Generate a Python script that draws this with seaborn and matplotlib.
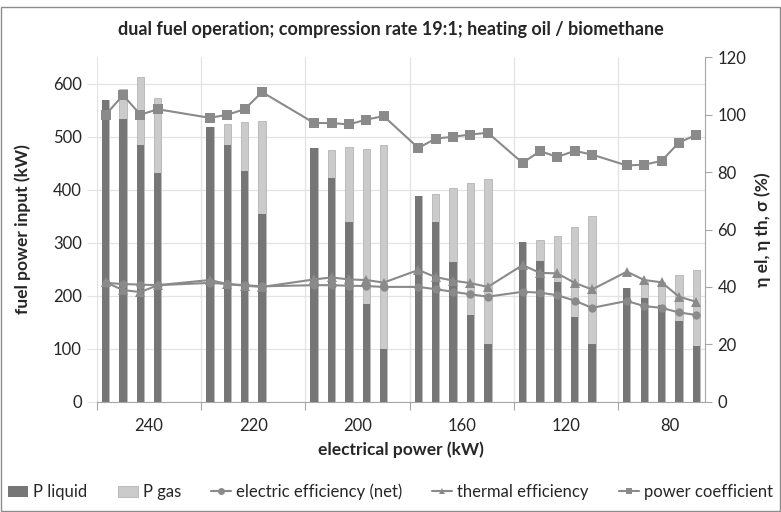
import numpy as np
import pandas as pd
import matplotlib
matplotlib.use("Agg")
import matplotlib.pyplot as plt
from matplotlib.patches import Patch, Rectangle
from matplotlib.lines import Line2D
import seaborn as sns

# electrical power groups (each group holds 6 category slots, the last one 5)
groups = ["240", "220", "200", "160", "120", "80"]
slots_per_group = 6

# fuel power input (kW)
p_liquid = [[570, 533, 484, 432], [518, 484, 436, 354], [478, 422, 340, 184, 100],
            [388, 340, 264, 163, 109], [302, 266, 226, 159, 109], [215, 196, 183, 153, 106]]
p_gas = [[0, 57, 129, 142], [0, 40, 91, 175], [0, 53, 141, 293, 384],
         [0, 52, 140, 250, 312], [0, 39, 87, 170, 241], [0, 30, 42, 87, 143]]

# efficiencies (%)
el_eff = [[41.4, 41.0, 40.8, 40.6], [41.4, 41.0, 40.6, 40.2], [40.6, 40.6, 40.4, 40.3, 40.0],
          [40.0, 39.2, 38.3, 37.4, 36.6], [38.3, 38.0, 37.1, 35.2, 32.7], [35.1, 33.3, 32.7, 31.1, 30.2]]
th_eff = [[41.6, 38.9, 38.2, 40.6], [42.4, 41.0, 40.4, 40.0], [42.6, 43.3, 42.6, 42.4, 41.5],
          [45.9, 43.4, 42.2, 41.3, 40.0], [47.6, 44.9, 44.7, 41.4, 39.1], [45.3, 42.4, 41.6, 36.6, 34.8]]
power_coef = [[100.0, 106.8, 100.0, 101.9], [98.9, 100.0, 101.9, 107.9], [97.1, 97.1, 96.6, 98.3, 99.5],
              [88.4, 91.7, 92.3, 93.1, 93.7], [83.2, 87.3, 85.3, 87.4, 86.1], [82.3, 82.6, 83.9, 90.3, 93.0]]

# build long table: one row per measurement, placed in its category slot
rows = []
for g in range(len(groups)):
    for j in range(len(p_liquid[g])):
        rows.append({
            "slot": g * slots_per_group + j,
            "liquid": p_liquid[g][j],
            "total": p_liquid[g][j] + p_gas[g][j],
            "el": el_eff[g][j],
            "th": th_eff[g][j],
            "sigma": power_coef[g][j],
        })
df = pd.DataFrame(rows)
n_slots = slots_per_group * (len(groups) - 1) + 5

sns.set_style("white")
plt.rcParams["font.family"] = ["Lato", "DejaVu Sans"]

dark = "#767676"
light = "#cbcbcb"
line_c = "#8a8a8a"
grid_c = "#e3e3e3"

fig = plt.figure(figsize=(7.81, 5.12), dpi=100)
ax = fig.add_axes([97 / 781, 1 - 401.7 / 512, (705 - 97) / 781, (401.7 - 57.3) / 512])

sns.barplot(data=df, x="slot", y="total", native_scale=True, width=0.42, color=light,
            saturation=1, edgecolor="#b5b5b5", linewidth=0.6, errorbar=None, ax=ax, zorder=2)
sns.barplot(data=df, x="slot", y="liquid", native_scale=True, width=0.42, color=dark,
            saturation=1, linewidth=0, errorbar=None, ax=ax, zorder=3)

ax.set_xlim(-0.5, n_slots - 0.5)
ax.set_ylim(0, 650)
ax.set_yticks(np.arange(0, 601, 100))
bounds = np.arange(len(groups)) * slots_per_group - 0.5
ax.set_xticks(bounds)
ax.set_xticklabels([])
ax.set_xticks(np.arange(len(groups)) * slots_per_group + 2.5, minor=True)
ax.set_xticklabels(groups, minor=True)
ax.tick_params(axis="x", which="major", direction="out", length=6, color="#a6a6a6", bottom=True)
ax.tick_params(axis="x", which="minor", length=0, pad=12, labelsize=12)
ax.tick_params(axis="y", direction="out", length=7, color=grid_c, left=True, labelsize=12, pad=4)
ax.grid(True, axis="both", which="major", color=grid_c, lw=0.9)
ax.set_axisbelow(True)
for s in ["left", "top", "right"]:
    ax.spines[s].set_visible(False)
ax.spines["bottom"].set_color("#a6a6a6")
ax.spines["bottom"].set_zorder(5)
ax.set_xlabel("electrical power (kW)", fontsize=12.5, fontweight="bold", labelpad=5)
ax.set_ylabel("fuel power input (kW)", fontsize=12.5, fontweight="bold", labelpad=16)

ax2 = ax.twinx()
sns.lineplot(data=df, x="slot", y="el", color=line_c, marker="o", markersize=6,
             markeredgewidth=0, lw=1.5, ax=ax2)
sns.lineplot(data=df, x="slot", y="th", color=line_c, marker="^", markersize=6.5,
             markeredgewidth=0, lw=1.5, ax=ax2)
sns.lineplot(data=df, x="slot", y="sigma", color=line_c, marker="s", markersize=6.5,
             markeredgewidth=0, lw=1.5, ax=ax2)
ax2.set_ylim(0, 120)
ax2.set_yticks(np.arange(0, 121, 20))
ax2.set_xlim(-0.5, n_slots - 0.5)
for s in ["left", "top", "bottom"]:
    ax2.spines[s].set_visible(False)
ax2.spines["right"].set_color("#a6a6a6")
ax2.tick_params(axis="y", direction="out", length=5, color="#a6a6a6", right=True, labelsize=12, pad=4)
ax2.set_ylabel("η el, η th, σ (%)", fontsize=12.5, fontweight="bold", labelpad=6)
ax2.grid(False)

fig.suptitle("dual fuel operation; compression rate 19:1; heating oil / biomethane",
             x=0.5, y=1 - 30 / 512, va="center", fontsize=13, fontweight="bold")

handles = [
    Patch(facecolor=dark, edgecolor="none"),
    Patch(facecolor=light, edgecolor="#b5b5b5", lw=0.6),
    Line2D([], [], color=line_c, marker="o", markersize=5, markeredgewidth=0, lw=1.5),
    Line2D([], [], color=line_c, marker="^", markersize=5, markeredgewidth=0, lw=1.5),
    Line2D([], [], color=line_c, marker="s", markersize=5, markeredgewidth=0, lw=1.5),
]
labels = ["P liquid", "P gas", "electric efficiency (net)", "thermal efficiency", "power coefficient"]
fig.legend(handles, labels, loc="center", bbox_to_anchor=(0.5, 1 - 492 / 512), ncol=5,
           frameon=False, fontsize=12, handlelength=1.2, handletextpad=0.3, columnspacing=1.8)

fig.patches.append(Rectangle((0.0015, 0.002), 0.997, 1 - 7 / 512 - 0.002, transform=fig.transFigure,
                             fill=False, edgecolor="#8c8c8c", lw=1))

fig.savefig("out.png", dpi=100)
